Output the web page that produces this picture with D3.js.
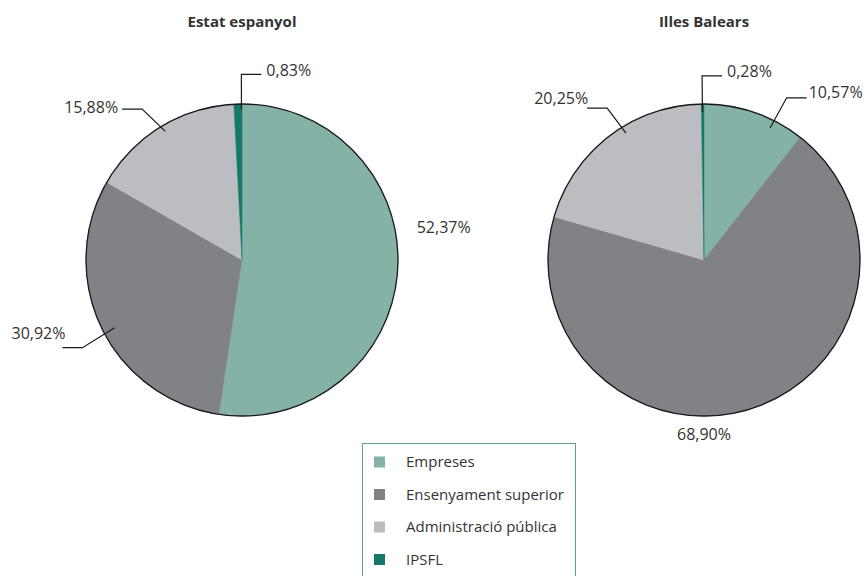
<!DOCTYPE html>
<html>
<head>
<meta charset="utf-8">
<script src="https://cdn.jsdelivr.net/npm/d3@7"></script>
<style>
  html, body { margin: 0; padding: 0; background: #fff; }
  svg { display: block; }
  text { font-family: "Open Sans", "Noto Sans", sans-serif; fill: #333; }
</style>
</head>
<body>
<svg id="chart" width="866" height="576"></svg>
<script>
// ---- data ----
const categories = ["Empreses", "Ensenyament superior", "Administració pública", "IPSFL"];
const estatValues = [52.37, 30.92, 15.88, 0.83];
const balearsValues = [10.57, 68.90, 20.25, 0.28];
const pieTitles = ["Estat espanyol", "Illes Balears"];
const colors = ["#84b2a7", "#818286", "#bcbdc1", "#127a66"];

// ---- layout (styles / positions, not data) ----
const pies = [
  { values: estatValues, title: pieTitles[0], cx: 242, cy: 260, r: 156,
    labels: [
      { free: true, angle: 80.7, r: 1.31 },
      { a1: 242, r1: 0.925, a2: 241.2, r2: 1.167, side: -1, tx: 3, ty: -14 },
      { a1: 329.2, r1: 0.96, a2: 326.5, r2: 1.16, side: -1, tx: -4, ty: -2 },
      { a1: 359.8, r1: 0.968, a2: 359.8, r2: 1.19, side: 1, tx: 5, ty: -4 }
    ] },
  { values: balearsValues, title: pieTitles[1], cx: 704, cy: 260, r: 156,
    labels: [
      { a1: 26.6, r1: 0.946, a2: 27, r2: 1.167, side: 1, tx: 2, ty: -5.5 },
      { free: true, angle: 180, r: 1.115 },
      { a1: 328.4, r1: 0.955, a2: 327.5, r2: 1.155, side: -1, tx: 1, ty: -10 },
      { a1: 359.4, r1: 0.95, a2: 359.4, r2: 1.18, side: 1, tx: 5, ty: -4.7 }
    ] }
];

const svg = d3.select("#chart");
const color = d3.scaleOrdinal().domain(categories).range(colors);
const pieGen = d3.pie().sort(null).value(d => d.value).startAngle(0).endAngle(2 * Math.PI);
const fmt = v => d3.format(".2f")(v).replace(".", ",") + "%";
const rad = deg => deg * Math.PI / 180;
const tailLen = 20;

pies.forEach(p => {
  const g = svg.append("g");
  const data = categories.map((c, i) => ({ cat: c, value: p.values[i], i }));
  const arcs = pieGen(data);
  const arc = d3.arc().innerRadius(0).outerRadius(p.r);
  const pt = (aDeg, rr) => [p.cx + rr * p.r * Math.sin(rad(aDeg)), p.cy - rr * p.r * Math.cos(rad(aDeg))];

  g.append("g").attr("transform", `translate(${p.cx},${p.cy})`)
    .selectAll("path").data(arcs).join("path")
    .attr("d", arc)
    .attr("fill", d => color(d.data.cat))
    .attr("stroke", d => color(d.data.cat))
    .attr("stroke-width", 0.5);

  g.append("circle").attr("cx", p.cx).attr("cy", p.cy).attr("r", p.r)
    .attr("fill", "none").attr("stroke", "#1a1a1a").attr("stroke-width", 1.3);

  g.append("text").attr("x", p.cx).attr("y", 27)
    .attr("text-anchor", "middle").attr("font-size", 15).attr("font-weight", "bold")
    .text(p.title);

  arcs.forEach((d, i) => {
    const L = p.labels[i];
    const label = fmt(d.data.value);
    if (L.free) {
      const [x, y] = pt(L.angle, L.r);
      g.append("text").attr("x", x).attr("y", y).attr("dy", "0.36em")
        .attr("text-anchor", "middle").attr("font-size", 16).text(label);
    } else {
      const p1 = pt(L.a1, L.r1);
      const p2 = pt(L.a2, L.r2);
      const p3 = [p2[0] + L.side * tailLen, p2[1]];
      g.append("polyline")
        .attr("points", [p1, p2, p3].map(q => q.join(",")).join(" "))
        .attr("fill", "none").attr("stroke", "#1a1a1a").attr("stroke-width", 1.2);
      g.append("text").attr("x", p3[0] + L.side * Math.abs(L.tx) * (L.tx >= 0 ? 1 : 1) * (L.side > 0 ? 1 : (L.tx < 0 ? 1 : -1)))
        .attr("y", p3[1] + L.ty).attr("dy", "0.36em")
        .attr("text-anchor", L.side > 0 ? "start" : "end")
        .attr("font-size", 16).text(label);
    }
  });
});

// ---- legend ----
const lg = svg.append("g");
lg.append("rect").attr("x", 362.5).attr("y", 443.5).attr("width", 213).attr("height", 150)
  .attr("fill", "#fff").attr("stroke", "#5e9f91").attr("stroke-width", 1);
const rowY = d3.scalePoint().domain(categories).range([462, 559.5]);
categories.forEach(c => {
  lg.append("rect").attr("x", 374).attr("y", rowY(c) - 5.5).attr("width", 11).attr("height", 11)
    .attr("fill", color(c));
  lg.append("text").attr("x", 406).attr("y", rowY(c)).attr("dy", "0.36em")
    .attr("font-size", 15).text(c);
});
</script>
</body>
</html>
